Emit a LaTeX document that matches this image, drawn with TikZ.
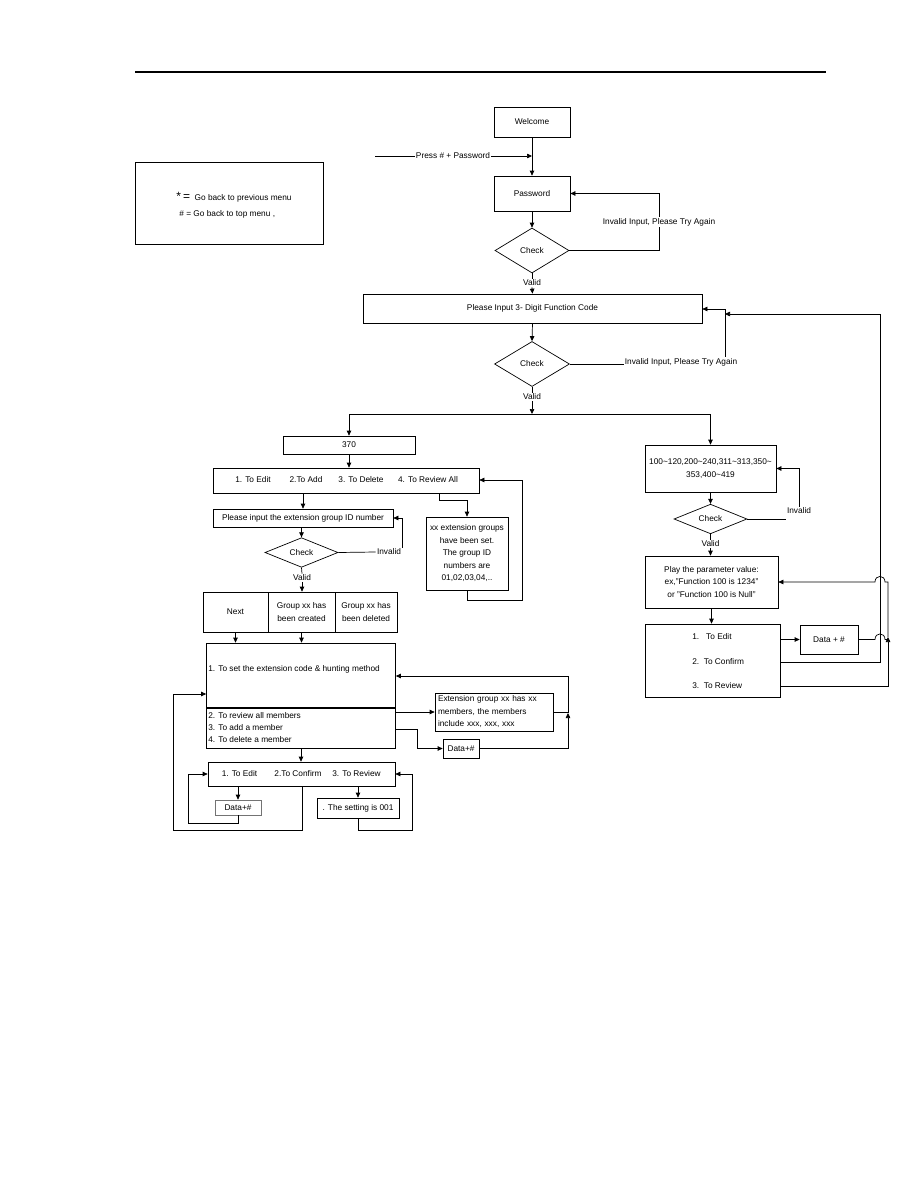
\documentclass[tikz,border=0pt]{standalone}
\usepackage{fontspec}
\setmainfont{Liberation Sans}
\usetikzlibrary{shapes.geometric,arrows.meta}
\tikzset{
  every node/.style={font=\fontsize{8.3}{12.5}\selectfont},
  box/.style={draw, line width=0.7pt, inner sep=1pt, align=center},
  dia/.style={draw, diamond, line width=0.7pt, inner sep=0pt},
  lbl/.style={inner sep=1pt, fill=white},
  txt/.style={inner sep=0pt},
  arr/.style={-{Triangle[length=5pt,width=4.5pt]}},
}
\begin{document}
\begin{tikzpicture}[x=1pt,y=-1pt,line width=0.7pt]
\fill[white] (0,0) rectangle (918,1188);
\path[use as bounding box] (0,0) rectangle (918,1188);

% header rule
\coordinate (hl) at (135,72);
\coordinate (hr) at (826,72);
\draw[line width=1.2pt] (hl) -- (hr);

% legend
\node[box, minimum width=188pt, minimum height=82pt] (legend) at (229,203) {};
\node[txt, anchor=west] (leg1) at (176,197) {{\fontsize{12}{12}\selectfont *\,=}\ \ Go back to previous menu};
\node[txt, anchor=west] (leg2) at (179,214) {\# = Go back to top menu ,};

% top part
\node[box, minimum width=76pt, minimum height=30pt] (welcome) at (532,122) {Welcome};
\node[box, minimum width=76pt, minimum height=35pt] (password) at (532,193.5) {Password};
\node[dia, minimum width=74pt, minimum height=45pt] (check1) at (532,250.5) {Check};
\node[lbl] (press) at (453,156) {Press \# + Password};
\coordinate (pstart) at (375,156);
\draw (pstart) -- (press.west);
\draw[arr] (press.east) -- (press.east -| welcome.south);
\draw[arr] (welcome.south) -- (password.north);
\draw[arr] (password.south) -- (check1.north);
\node[lbl] (inv1) at (659,222) {Invalid Input, Please Try Again};
\draw (check1.east) -| (inv1.south);
\draw[arr] (inv1.north) |- (password.east);
\node[lbl] (valid1) at (532,283) {Valid};
\draw (check1.south) -- (valid1.north);
\node[box, minimum width=339pt, minimum height=29pt] (fcode) at (532.5,308.5) {Please Input 3- Digit Function Code};
\draw[arr] (valid1.south) -- (fcode.north);

\node[dia, minimum width=75pt, minimum height=45pt] (check2) at (532,364) {Check};
\draw[arr] (fcode.south) -- (check2.north);
\node[lbl] (inv2) at (681,362) {Invalid Input, Please Try Again};
\draw (check2.east) -- (check2.east -| inv2.west);
\draw[arr] (inv2.north -| 725,0) |- (fcode.east |- 0,309);
\node[lbl] (valid2) at (532,397) {Valid};
\draw (check2.south) -- (valid2.north);
\coordinate (split) at (532,414);
\draw[arr] (valid2.south) -- (split);

% left branch
\node[box, minimum width=132pt, minimum height=18pt] (b370) at (349,445) {370};
\draw[arr] (split) -| (b370.north);
\node[box, minimum width=266pt, minimum height=25pt] (menu) at (346,480.5) {};
\node[txt] (m1) at (253,480) {1. To Edit};
\node[txt] (m2) at (306,480) {2.To Add};
\node[txt] (m3) at (361,480) {3. To Delete};
\node[txt] (m4) at (428,480) {4. To Review All};
\draw[arr] (b370.south) -- (b370.south |- menu.north);

\node[box, minimum width=180pt, minimum height=18pt] (input) at (303,518) {Please input the extension group ID number};
\draw[arr] (menu.south -| input.north) -- (input.north);
\node[box, minimum width=82pt, minimum height=73pt] (review) at (467,553.5) {xx extension groups\\have been set.\\The group ID\\numbers are\\01,02,03,04,..};
\draw[arr] (menu.south -| 439,0) -- (439,500) -| (review.north);
\draw[arr] (review.south) |- (522,600) -- (522,480) -- (menu.east |- 0,480);

\node[dia, minimum width=73pt, minimum height=27pt] (check3) at (301.5,552.5) {Check};
\draw[arr] (input.south -| check3.north) -- (check3.north);
\node[lbl] (inv3) at (389,552) {Invalid};
\draw (check3.east) -- (inv3.west);
\draw[arr] (inv3.north east) |- (input.east);
\node[lbl] (valid3) at (302,578) {Valid};
\draw (check3.south) -- (valid3.north);

\node[box, minimum width=65pt, minimum height=40pt] (next) at (235.5,612) {Next};
\node[box, minimum width=67pt, minimum height=40pt] (created) at (301.5,612) {Group xx has\\been created};
\node[box, minimum width=62pt, minimum height=40pt] (deleted) at (366,612) {Group xx has\\been deleted};
\draw[arr] (valid3.south) -- (valid3.south |- created.north);

\node[box, minimum width=189pt, minimum height=105pt] (big) at (301,695.5) {};
\draw[line width=1.3pt] (big.west |- 0,708) -- (big.east |- 0,708);
\node[txt, anchor=west] (t1) at (208,669) {1. To set the extension code \& hunting method};
\node[txt, anchor=west] (t2) at (208,716) {2. To review all members};
\node[txt, anchor=west] (t3) at (208,728) {3. To add a member};
\node[txt, anchor=west] (t4) at (208,740) {4. To delete a member};
\draw[arr] (next.south) -- (next.south |- big.north);
\draw[arr] (created.south) -- (created.south |- big.north);

\node[box, text width=112pt, inner sep=3pt, minimum height=38pt, align=left] (ext) at (494,712) {Extension group xx has xx\\members, the members\\include xxx, xxx, xxx};
\draw[arr] (big.east |- ext.west) -- (ext.west);
\node[box, minimum width=36pt, minimum height=19pt] (data1) at (461,748.5) {Data+\#};
\draw[arr] (big.east |- 0,729) -- (417,729) |- (data1.west);
\draw[arr] (data1.east) -| (568,713);
\draw[arr] (ext.east) -| (568,676) -- (big.east |- 0,676);

\node[box, minimum width=187pt, minimum height=24pt] (ec) at (301.5,774) {};
\node[txt] (e1) at (239.5,774) {1. To Edit};
\node[txt] (e2) at (298,774) {2.To Confirm};
\node[txt] (e3) at (356.5,774) {3. To Review};
\draw[arr] (big.south) -- (big.south |- ec.north);
\draw[arr] (ec.south -| 302,0) -- (302,830) -| (173,694) -- (big.west |- 0,694);

\node[box, draw=black!55, minimum width=46pt, minimum height=15pt] (dat2) at (238,807.5) {Data+\#};
\draw[arr] (ec.south -| dat2.north) -- (dat2.north);
\draw[arr] (dat2.south) -- (238,823) -| (188,774) -- (ec.west);
\node[box, minimum width=82pt, minimum height=20pt] (setb) at (358,808) {. The setting is 001};
\draw[arr] (ec.south -| setb.north) -- (setb.north);
\draw[arr] (setb.south) -- (358,830) -| (412,774) -- (ec.east);

% right branch
\node[box, minimum width=131pt, minimum height=47pt] (rbox) at (710.5,468.5) {100\textasciitilde 120,200\textasciitilde 240,311\textasciitilde 313,350\textasciitilde\\353,400\textasciitilde 419};
\draw[arr] (split) -| (rbox.north);
\node[dia, minimum width=73pt, minimum height=24pt] (check4) at (710.5,519) {Check};
\draw[arr] (rbox.south) -- (check4.north);
\node[lbl] (inv4) at (799,511) {Invalid};
\draw (check4.east) -- (check4.east -| inv4.west);
\draw[arr] (inv4.north) |- (rbox.east);
\node[lbl] (valid4) at (710.5,544) {Valid};
\draw (check4.south) -- (valid4.north);
\node[box, minimum width=133pt, minimum height=52pt] (play) at (711.5,582) {Play the parameter value:\\ex,"Function 100 is 1234"\\or "Function 100 is Null"};
\draw[arr] (valid4.south) -- (valid4.south |- play.north);
\node[box, minimum width=135pt, minimum height=73pt] (rmenu) at (712.5,660.5) {};
\node[txt, anchor=west] (r1) at (692,637) {1.\ \ \ To Edit};
\node[txt, anchor=west] (r2) at (692,662) {2.\ \ To Confirm};
\node[txt, anchor=west] (r3) at (692,686) {3.\ \ To Review};
\draw[arr] (play.south) -- (play.south |- rmenu.north);
\node[box, minimum width=58pt, minimum height=29pt] (data3) at (829,639.5) {Data + \#};
\draw[arr] (rmenu.east |- data3.west) -- (data3.west);
\draw (data3.east) -- (875,639.5) .. controls (875,632) and (885,632) .. (885,639.5) -- (888,639.5);
\draw[arr] (rmenu.east |- 0,686) -| (888,637);
\draw[arr] (888,637) -- (888,582) -- (885,582) .. controls (885,574.5) and (875,574.5) .. (875,582) -- (play.east);
\draw[arr] (rmenu.east |- 0,662) -| (880,314) -- (725,314);
\end{tikzpicture}
\end{document}
